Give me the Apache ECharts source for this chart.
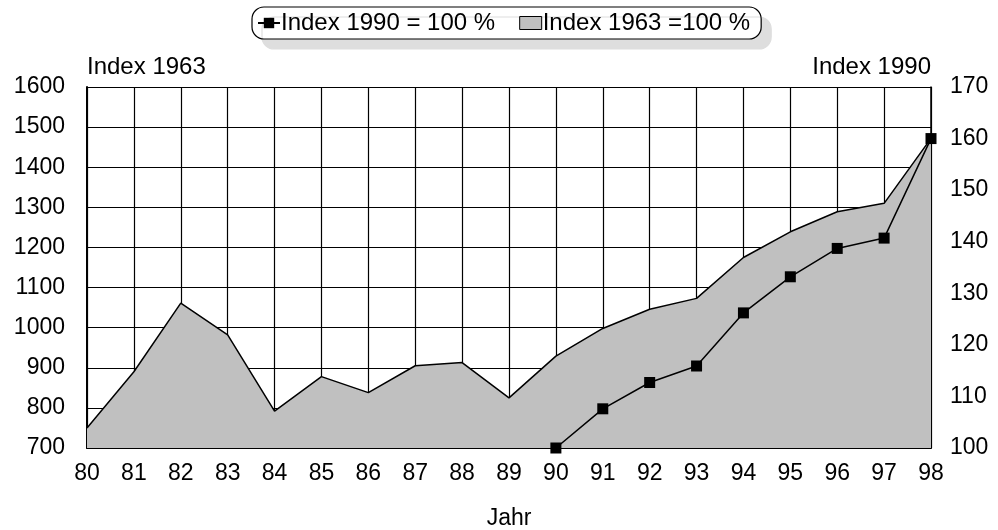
<!DOCTYPE html>
<html>
<head>
<meta charset="utf-8">
<script src="https://cdn.jsdelivr.net/npm/echarts@6/dist/echarts.min.js"></script>
<style>
  html, body { margin: 0; padding: 0; background: #fff; }
  #main { width: 998px; height: 530px; }
</style>
</head>
<body>
<div id="main"></div>
<script>
// Jahre 80..98
var years = ['80','81','82','83','84','85','86','87','88','89','90','91','92','93','94','95','96','97','98'];
// Index 1963 = 100 % (Flaeche, linke Achse)
var index1963 = [750, 890, 1061, 982, 792, 878, 838, 905, 913, 825, 929, 998, 1046, 1073, 1175, 1239, 1289, 1310, 1472];
// Index 1990 = 100 % (Linie, rechte Achse)
var index1990 = ['-', '-', '-', '-', '-', '-', '-', '-', '-', '-', 100, 107.6, 112.7, 115.9, 126.2, 133.2, 138.7, 140.7, 160];
var leftTicks = { min: 700, max: 1600, interval: 100 };
var rightTicks = { min: 100, max: 170, interval: 10 };

var font = "'Liberation Sans', Arial, sans-serif";
var chart = echarts.init(document.getElementById('main'));

var option = {
  animation: false,
  textStyle: { fontFamily: font, color: '#000' },
  legend: {
    top: 7,
    left: 252,
    padding: [4, 11, 4, 5],
    itemGap: 24,
    itemWidth: 22,
    itemHeight: 13,
    backgroundColor: '#fff',
    borderColor: '#000',
    borderWidth: 1.2,
    borderRadius: 12,
    shadowColor: '#dedede',
    shadowOffsetX: 10,
    shadowOffsetY: 10,
    shadowBlur: 0,
    textStyle: { fontFamily: font, fontSize: 24, color: '#000', padding: [0, 0, 0, -4] },
    data: [
      { name: 'Index 1990 = 100 %' },
      { name: 'Index 1963 =100 %', icon: 'rect',
        itemStyle: { color: '#c0c0c0', borderColor: '#000', borderWidth: 1 } }
    ]
  },
  grid: { left: 87, right: 67, top: 87, bottom: 82, outerBoundsMode: 'none' },
  xAxis: {
    type: 'category',
    data: years,
    boundaryGap: false,
    name: 'Jahr',
    nameLocation: 'middle',
    nameGap: 59,
    nameTextStyle: { fontSize: 23, color: '#000', fontFamily: font },
    axisLine: { lineStyle: { color: '#000', width: 2 } },
    axisTick: { show: false },
    axisLabel: { fontSize: 23, color: '#000', margin: 14, fontFamily: font },
    splitLine: { show: true, lineStyle: { color: '#000', width: 1.2 } }
  },
  yAxis: [
    {
      type: 'value',
      min: leftTicks.min, max: leftTicks.max, interval: leftTicks.interval,
      name: 'Index 1963',
      nameLocation: 'end',
      nameGap: 8,
      nameTextStyle: { fontSize: 24, color: '#000', align: 'left', fontFamily: font },
      axisLine: { show: true, lineStyle: { color: '#000', width: 2 } },
      axisTick: { show: false },
      axisLabel: { fontSize: 23, color: '#000', margin: 22, fontFamily: font,
        formatter: function (v) { return String(v); } },
      splitLine: { show: true, lineStyle: { color: '#000', width: 1.2 } }
    },
    {
      type: 'value',
      min: rightTicks.min, max: rightTicks.max, interval: rightTicks.interval,
      name: 'Index 1990',
      nameLocation: 'end',
      nameGap: 8,
      nameTextStyle: { fontSize: 24, color: '#000', align: 'right', fontFamily: font },
      axisLine: { show: true, lineStyle: { color: '#000', width: 1.5 } },
      axisTick: { show: false },
      axisLabel: { fontSize: 23, color: '#000', margin: 19, fontFamily: font,
        formatter: function (v) { return String(v); } },
      splitLine: { show: false }
    }
  ],
  series: [
    {
      name: 'Index 1963 =100 %',
      type: 'line',
      yAxisIndex: 0,
      data: index1963,
      symbol: 'none',
      lineStyle: { color: '#000', width: 1.5 },
      itemStyle: { color: '#c0c0c0' },
      areaStyle: { color: '#c0c0c0', opacity: 1 },
      z: 2
    },
    {
      name: 'Index 1990 = 100 %',
      type: 'line',
      yAxisIndex: 1,
      data: index1990,
      symbol: 'rect',
      symbolSize: 11,
      lineStyle: { color: '#000', width: 1.5 },
      itemStyle: { color: '#000' },
      z: 3
    }
  ]
};

chart.setOption(option);
</script>
</body>
</html>
